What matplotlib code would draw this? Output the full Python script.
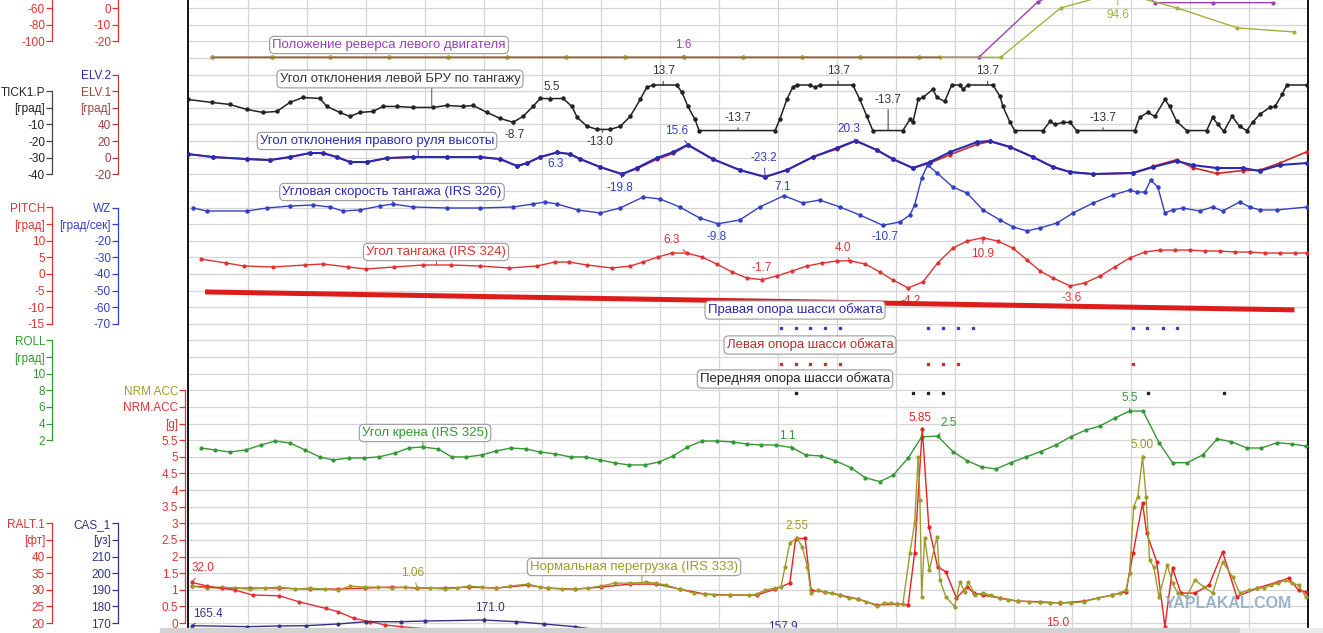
import matplotlib
matplotlib.use('Agg')
import matplotlib.pyplot as plt
from matplotlib.patches import Rectangle

plt.rcParams['font.family'] = ['Liberation Sans', 'DejaVu Sans']

# ---------------- data (time in grid seconds) ----------------
# reverse position traces (top, partly off screen)
rev_purple_t = [-0.61, 0.4, 1.4, 2.4, 3.4, 4.4, 5.4, 6.4, 7.4, 8.4, 9.4, 10.4, 11.4, 12.41,
                13.41, 13.79, 14.47, 15.26, 15.40, 16.38, 17.40]
rev_purple = [1.6, 1.6, 1.6, 1.6, 1.6, 1.6, 1.6, 1.6, 1.6, 1.6, 1.6, 1.6, 1.6, 1.6,
              80.6, 95.0, 98.0, 90.0, 79.6, 79.6, 79.6]
rev_olive_t = [-0.61, 0.4, 1.4, 2.4, 3.4, 4.4, 5.4, 6.4, 7.4, 8.4, 9.4, 10.4, 11.4, 11.75,
               12.78, 13.80, 14.77, 15.78, 16.80, 17.77]
rev_olive = [1.6, 1.6, 1.6, 1.6, 1.6, 1.6, 1.6, 1.6, 1.6, 1.6, 1.6, 1.6, 1.6, 1.6,
             1.6, 72.0, 94.6, 72.0, 43.5, 37.7]
rev_other_t = [-0.61, 1.4, 3.4, 5.4, 7.4, 9.4, 11.75]
rev_other = [1.6, 1.6, 1.6, 1.6, 1.6, 1.6, 1.6]

# left stick pitch (TICK1.P)
tick_t = [-1.02, -0.61, -0.31, -0.02, 0.25, 0.49, 0.71, 0.93, 1.22, 1.34,
          1.56, 1.73, 1.90, 2.12, 2.29, 2.53, 2.80, 3.14, 3.38, 3.65,
          3.82, 4.06, 4.28, 4.50, 4.67, 4.84, 4.96, 5.13, 5.35, 5.50,
          5.59, 5.76, 5.93, 6.15, 6.32, 6.49, 6.66, 6.77, 6.88, 7.28,
          7.37, 7.47, 7.59, 7.66, 8.95, 9.03, 9.15, 9.25, 9.32, 9.54,
          9.63, 9.71, 10.27, 10.39, 10.51, 10.61, 11.12, 11.24, 11.29, 11.38,
          11.46, 11.63, 11.70, 11.83, 11.95, 12.09, 12.14, 12.22, 12.65, 12.77,
          12.82, 12.94, 13.02, 13.50, 13.62, 13.70, 13.84, 13.96, 14.07, 15.06,
          15.14, 15.28, 15.40, 15.57, 15.65, 15.77, 15.94, 16.28, 16.38, 16.47,
          16.57, 16.71, 16.84, 16.96, 17.06, 17.18, 17.35, 17.44, 17.56, 17.64, 17.98]
tick_v = [5.0, 3.2, 2.0, -1.0, -2.8, -2.2, 3.2, 6.2, 5.6, 0.8,
          -2.8, -5.2, -2.8, -2.2, 0.8, 0.8, 0.2, 0.2, 1.4, 0.8,
          1.4, -2.8, -6.4, -8.7, -5.2, 0.8, 5.6, 5.5, 5.6, 0.8,
          -5.8, -11.2, -13.0, -13.0, -11.2, -5.2, 5.0, 12.3, 13.7, 13.7,
          9.3, 0.8, -7.0, -13.7, -13.7, -7.0, 5.0, 12.3, 13.7, 13.7,
          12.3, 13.7, 13.7, 5.0, -5.2, -13.7, -13.7, -7.0, -8.8, 5.0,
          6.2, 11.1, 6.2, 3.8, 13.7, 13.7, 11.1, 13.7, 13.7, 6.8,
          0.8, -8.8, -13.7, -13.7, -8.2, -10.0, -8.8, -8.8, -13.7, -13.7,
          -5.8, -2.8, -5.2, 5.0, 0.8, -8.2, -13.7, -13.7, -5.8, -10.0,
          -14.2, -5.2, -11.2, -13.7, -8.8, -4.0, 0.2, 0.8, 8.0, 13.7, 13.7]

# elevators (ELV.2 right - blue, ELV.1 left - red)
elv_t = [-1.02, -0.59, -0.02, 0.37, 0.71, 1.05, 1.27, 1.51, 1.73, 2.02,
         2.36, 2.80, 3.38, 3.94, 4.28, 4.57, 4.74, 4.96, 5.25, 5.47,
         5.64, 5.98, 6.35, 6.60, 6.94, 7.22, 7.47, 7.89, 8.35, 8.78,
         9.15, 9.59, 10.0, 10.32, 10.68, 10.95, 11.29, 11.58, 11.92, 12.38,
         12.60, 12.94, 13.33, 13.67, 13.96, 14.35, 15.03, 15.37, 15.77, 16.04,
         16.45, 16.89, 17.18, 17.52, 17.98]
elv2 = [4.3, 0.7, -1.7, -2.9, 0.7, 5.5, 5.5, 0.7, -5.3, -5.3,
        -0.5, 0.7, 0.7, 0.7, -1.7, -10.1, -6.5, 0.7, 6.3, 4.3,
        -1.7, -11.3, -19.8, -12.5, -0.5, 6.7, 15.6, -1.7, -14.9, -23.2,
        -14.9, 0.7, 11.6, 20.3, 9.1, -1.7, -12.5, -5.3, 6.7, 18.8,
        20.0, 12.8, 0.7, -11.3, -17.3, -19.7, -18.5, -11.3, -4.1, -8.9,
        -12.5, -12.5, -16.1, -8.9, -6.5]
elv1 = [4.3, 0.7, -1.7, -2.9, 0.7, 5.5, 5.5, 0.7, -5.3, -5.3,
        -0.5, 0.7, 0.7, 0.7, -1.7, -10.1, -6.5, 0.7, 6.3, 4.3,
        -1.7, -11.3, -19.8, -13.5, -2.0, 5.0, 15.0, -1.7, -14.9, -23.2,
        -14.9, 0.7, 10.5, 20.3, 9.1, -1.7, -12.5, -6.5, 3.5, 16.0,
        19.5, 12.8, 0.7, -11.3, -17.3, -19.7, -18.5, -10.5, -2.5, -12.0,
        -19.0, -15.5, -15.0, -6.5, 7.0]

# pitch rate WZ (IRS 326)
wz_t = [-0.93, -0.70, -0.02, 0.32, 0.71, 1.10, 1.39, 1.61, 1.90, 2.24,
        2.46, 2.80, 3.38, 3.94, 4.50, 4.84, 5.04, 5.25, 5.60, 5.98,
        6.32, 6.71, 7.0, 7.33, 7.67, 7.98, 8.35, 8.69, 9.10, 9.42,
        9.71, 10.05, 10.39, 10.78, 11.07, 11.24, 11.32, 11.44, 11.54, 11.70,
        11.97, 12.21, 12.48, 12.77, 12.99, 13.23, 13.45, 13.74, 14.01, 14.35,
        14.69, 14.97, 15.09, 15.23, 15.33, 15.45, 15.57, 15.70, 15.87, 16.16,
        16.38, 16.55, 16.84, 17.01, 17.18, 17.47, 17.98]
wz_v = [-0.3, -2.1, -2.1, -0.3, 0.9, 1.5, 0.3, -2.1, -1.5, 0.9,
        2.1, 0.3, -0.3, -0.3, 0.3, 2.1, 3.3, 2.1, -1.5, -3.3,
        -0.3, 6.3, 5.1, 0.3, -6.3, -9.8, -7.5, 0.3, 7.1, 2.7,
        4.5, 0.3, -4.5, -10.7, -8.7, -4.5, 1.5, 17.7, 25.6, 20.8,
        12.3, 8.7, -1.5, -7.5, -11.7, -14.1, -12.3, -9.3, -3.3, 2.7,
        7.5, 10.5, 9.3, 9.3, 16.5, 12.3, -3.3, -1.5, -0.3, -2.1,
        0.3, -2.1, 3.3, 0.3, -1.5, -1.5, 0.3]

# pitch angle (IRS 324)
pitch_t = [-0.80, -0.37, -0.07, 0.42, 0.97, 1.27, 1.70, 2.0, 2.48, 2.97,
           3.45, 3.94, 4.43, 4.91, 5.21, 5.45, 5.76, 6.18, 6.49, 6.71,
           6.96, 7.20, 7.45, 7.71, 7.96, 8.22, 8.47, 8.73, 8.98, 9.24,
           9.49, 9.75, 10.0, 10.22, 10.48, 10.73, 10.95, 11.21, 11.46, 11.71,
           11.97, 12.21, 12.48, 12.73, 12.99, 13.23, 13.45, 13.67, 13.96, 14.21,
           14.47, 14.72, 14.97, 15.23, 15.48, 15.74, 15.99, 16.25, 16.50, 16.76,
           17.01, 17.27, 17.52, 17.78, 17.98]
pitch_v = [4.5, 3.3, 2.4, 2.1, 2.7, 3.0, 2.1, 1.5, 2.1, 2.7,
           2.7, 2.4, 1.8, 2.4, 3.6, 3.6, 2.7, 1.8, 2.4, 3.6,
           5.1, 6.3, 6.3, 5.1, 3.0, 0.6, -1.2, -1.7, -0.6, 0.9,
           2.4, 3.3, 3.9, 4.0, 3.0, 0.6, -1.8, -4.2, -2.4, 3.3,
           7.8, 9.9, 10.9, 9.9, 7.8, 4.2, 0.9, -1.2, -3.6, -2.7,
           -0.6, 2.1, 4.8, 6.6, 7.2, 7.2, 7.2, 6.9, 6.9, 6.6,
           6.6, 6.3, 6.3, 6.3, 6.3]

# hand drawn red stroke over the screenshot (in pitch units)
stroke_t = [-0.73, 17.77]
stroke_v = [-5.4, -10.8]

# weight-on-wheels discretes
gear_right_t = [9.05, 9.30, 9.55, 9.80, 10.05, 11.55, 11.81, 12.06, 12.31, 15.02, 15.27, 15.53, 15.78]
gear_right = [1, 1, 1, 1, 1, 1, 1, 1, 1, 1, 1, 1, 1]
gear_left_t = [9.05, 9.30, 9.55, 9.80, 10.05, 11.55, 11.81, 12.06, 15.02]
gear_left = [1, 1, 1, 1, 1, 1, 1, 1, 1]
gear_nose_t = [9.30, 11.29, 11.55, 11.81, 15.29, 16.57]
gear_nose = [1, 1, 1, 1, 1, 1]

# roll angle (IRS 325)
roll_t = [-0.80, -0.56, -0.31, -0.04, 0.22, 0.46, 0.71, 0.97, 1.22, 1.45,
          1.71, 1.97, 2.22, 2.50, 2.73, 2.97, 3.23, 3.46, 3.70, 3.97,
          4.21, 4.47, 4.72, 4.96, 5.22, 5.48, 5.74, 5.97, 6.23, 6.47,
          6.74, 6.98, 7.22, 7.46, 7.71, 7.96, 8.23, 8.47, 8.71, 8.96,
          9.24, 9.47, 9.73, 9.97, 10.24, 10.48, 10.73, 10.96, 11.21, 11.44,
          11.71, 11.97, 12.21, 12.46, 12.70, 12.95, 13.21, 13.46, 13.72, 13.97,
          14.23, 14.47, 14.72, 14.97, 15.20, 15.47, 15.70, 15.95, 16.21, 16.46,
          16.70, 16.96, 17.21, 17.48, 17.72, 17.96]
roll_v = [1.06, 0.82, 0.58, 0.82, 1.42, 1.90, 1.66, 0.82, -0.02, -0.38,
          -0.14, -0.14, -0.02, 0.46, 1.06, 1.18, 0.94, -0.02, -0.02, 0.22,
          0.70, 1.06, 0.94, 0.58, 0.34, -0.02, -0.02, -0.38, -0.74, -0.98,
          -0.98, -0.62, 0.10, 1.18, 1.90, 1.90, 1.78, 1.54, 1.42, 1.42,
          1.10, 0.22, 0.10, -0.47, -1.31, -2.51, -2.99, -2.19, -0.14, 2.4,
          2.5, 0.62, -0.47, -1.23, -1.47, -0.71, -0.02, 0.62, 1.42, 2.42,
          3.23, 3.71, 4.67, 5.5, 5.5, 1.70, -0.71, -0.71, 0.22, 2.14,
          1.82, 1.06, 1.06, 1.70, 1.54, 1.30]

# normal load factor (IRS 333): NRM ACC (olive) and NRM.ACC (red)
nrm_a_t = [-0.95, -0.70, -0.44, -0.22, 0.03, 0.29, 0.53, 0.80, 1.05, 1.31,
           1.53, 1.73, 1.99, 2.21, 2.44, 2.67, 2.87, 3.09, 3.34, 3.55,
           3.75, 3.97, 4.21, 4.45, 4.75, 4.96, 5.09, 5.33, 5.55, 5.77,
           5.99, 6.23, 6.49, 6.76, 6.93, 7.10, 7.33, 7.57, 7.76, 7.91,
           8.18, 8.51, 8.64, 8.78, 8.95, 9.05, 9.12, 9.20, 9.32, 9.41,
           9.50, 9.56, 9.68, 9.80, 9.92, 10.05, 10.20, 10.36, 10.50, 10.68,
           10.80, 10.92, 11.02, 11.12, 11.24, 11.32, 11.38, 11.41, 11.44, 11.49,
           11.57, 11.70, 11.75, 11.85, 12.00, 12.09, 12.17, 12.23, 12.35, 12.48,
           12.61, 12.77, 12.90, 13.07, 13.26, 13.45, 13.62, 13.79, 13.97, 14.20,
           14.43, 14.67, 14.80, 14.91, 14.97, 15.04, 15.11, 15.19, 15.25, 15.31,
           15.38, 15.47, 15.61, 15.70, 15.79, 15.94, 16.08, 16.23, 16.38, 16.55,
           16.72, 16.84, 17.00, 17.14, 17.25, 17.37, 17.49, 17.61, 17.73, 17.84, 17.96]
nrm_a = [1.11, 1.05, 1.08, 1.05, 1.02, 1.05, 1.08, 1.02, 1.05, 1.02,
         0.99, 1.11, 1.08, 1.08, 1.05, 1.08, 1.06, 1.05, 1.02, 1.05,
         1.11, 1.08, 1.05, 1.11, 1.17, 1.08, 1.05, 1.02, 1.02, 1.05,
         1.11, 1.20, 1.20, 1.23, 1.20, 1.14, 1.02, 0.90, 0.87, 0.84,
         0.84, 0.84, 0.87, 0.99, 1.05, 1.09, 1.69, 2.41, 2.55, 2.30,
         1.69, 0.90, 0.99, 0.93, 0.90, 0.84, 0.75, 0.72, 0.64, 0.51,
         0.60, 0.60, 0.57, 0.57, 2.11, 3.01, 5.00, 3.70, 0.79, 2.56,
         1.59, 2.60, 1.29, 0.79, 0.49, 1.24, 0.94, 1.24, 0.84, 0.90,
         0.84, 0.75, 0.69, 0.66, 0.64, 0.62, 0.60, 0.62, 0.60, 0.64,
         0.75, 0.84, 0.90, 0.99, 1.50, 3.50, 3.80, 5.00, 3.80, 1.90,
         1.69, 0.79, 1.74, 1.20, 0.90, 0.79, 1.29, 1.09, 0.90, 1.84,
         1.39, 0.90, 0.99, 1.05, 1.05, 1.14, 1.20, 1.29, 1.20, 1.14, 0.79]
nrm_b_t = [-0.95, -0.44, 0.03, 0.53, 1.05, 1.53, 1.99, 2.44, 2.87, 3.34,
           3.75, 4.21, 4.75, 5.09, 5.55, 5.99, 6.49, 6.93, 7.33, 7.76,
           8.18, 8.64, 8.95, 9.20, 9.30, 9.46, 9.56, 9.80, 10.05, 10.36,
           10.68, 11.02, 11.21, 11.32, 11.45, 11.56, 11.71, 11.85, 12.03, 12.21,
           12.33, 12.48, 12.77, 13.07, 13.45, 13.79, 14.20, 14.67, 14.91, 15.03,
           15.19, 15.26, 15.43, 15.57, 15.70, 15.84, 16.08, 16.32, 16.55, 16.79,
           17.14, 17.49, 17.67, 17.84, 17.96]
nrm_b = [1.11, 1.05, 1.05, 1.05, 1.02, 1.02, 1.05, 1.08, 1.05, 1.05,
         1.08, 1.05, 1.14, 1.05, 1.02, 1.08, 1.17, 1.17, 1.02, 0.87,
         0.84, 0.84, 1.02, 1.20, 2.53, 2.55, 0.99, 0.93, 0.84, 0.72,
         0.54, 0.57, 0.54, 2.11, 5.85, 2.90, 1.69, 1.54, 0.75, 1.09,
         0.90, 0.84, 0.75, 0.66, 0.64, 0.60, 0.66, 0.84, 0.94, 2.11,
         3.61, 2.71, 1.84, -0.11, 1.65, 0.90, 0.90, 1.14, 2.14, 0.79,
         1.05, 1.24, 1.35, 0.99, 0.94]

# radio altitude and airspeed (bottom, mostly below the visible area)
ralt_t = [-0.95, -0.69, -0.22, 0.08, 0.53, 0.86, 1.32, 1.53, 1.80, 2.07,
          2.33, 2.60, 3.5, 5.0, 8.0, 11.0, 13.75, 16.0, 18.0]
ralt_v = [32.2, 31.1, 29.9, 28.4, 28.2, 26.4, 24.4, 23.4, 21.4, 20.4,
          19.4, 18.9, 17.5, 16.3, 15.6, 15.2, 15.0, 14.8, 14.6]
cas_t = [-0.95, -0.02, 0.53, 0.99, 1.53, 2.0, 2.60, 3.0, 4.0, 4.55,
         5.03, 5.55, 6.5, 7.5, 9.08, 11.0, 14.0, 18.0]
cas_v = [168.4, 167.8, 168.2, 168.4, 169.4, 170.8, 170.8, 171.2, 171.8, 170.8,
         169.4, 167.8, 163.0, 160.0, 157.9, 156.5, 155.5, 155.0]

# ---------------- layout ----------------
W, H = 1323, 633
X0, X1 = 188, 1308
T0, T1 = -1.019, 18.0
Y_BASE, STEP = 623, 16.62
RECT = [X0 / W, 0, (X1 - X0) / W, 1]

C_RED = '#e03232'
C_BLUE = '#3340c4'
C_DBLUE = '#2a2ab0'
C_GREEN = '#339933'
C_OLIVE = '#9c9c2a'
C_BLACK = '#222222'
C_PURPLE = '#9b3fb5'
C_BROWN = '#a04040'
C_NAVY = '#333385'


def lims(k0, v0, dv):
    kb = (Y_BASE - H) / STEP
    kt = Y_BASE / STEP
    return v0 + (kb - k0) * dv, v0 + (kt - k0) * dv


fig = plt.figure(figsize=(W / 100, H / 100), dpi=100)
ax = fig.add_axes(RECT)
ax.set_xticks(range(0, 18))
ax.set_yticks([Y_BASE - STEP * k for k in range(38)])
ax.set_xlim(T0, T1)
ax.set_ylim(H, 0)
ax.tick_params(length=0, labelleft=False, labelbottom=False)
ax.grid(True, color='#d6d6d6', lw=0.9)
for s in ('top', 'bottom'):
    ax.spines[s].set_visible(False)
for s in ('left', 'right'):
    ax.spines[s].set_color('black')
    ax.spines[s].set_linewidth(1.3)


def trace_axes(k0, v0, dv):
    a = fig.add_axes(RECT, sharex=ax)
    a.set_ylim(*lims(k0, v0, dv))
    a.patch.set_visible(False)
    a.axis('off')
    return a


def scale(xs, k0, v0, dv, ticks, labels, colors, spine_color, top=None):
    a = fig.add_axes([xs / W, 0, 0.0005, 1])
    a.patch.set_visible(False)
    for s in ('right', 'top', 'bottom'):
        a.spines[s].set_visible(False)
    a.spines['left'].set_color(spine_color)
    a.spines['left'].set_linewidth(0.9)
    a.spines['left'].set_bounds(min(ticks), max(ticks) if top is None else top)
    a.set_xticks([])
    a.set_yticks(ticks)
    a.set_yticklabels(labels)
    a.set_ylim(*lims(k0, v0, dv))
    a.tick_params(axis='y', length=4, width=0.9, color=spine_color, pad=1, labelsize=8.5)
    if isinstance(colors, str):
        colors = [colors] * len(ticks)
    for lab, c in zip(a.get_yticklabels(), colors):
        lab.set_color(c)
    return a


def note(a, t, v, text, dx, dy, color):
    a.annotate(text, xy=(t, v), xytext=(dx, dy), textcoords='offset pixels',
               ha='center', va='center', color=color, fontsize=8.5,
               arrowprops=dict(arrowstyle='-', color=color, lw=0.7, shrinkA=1, shrinkB=0),
               annotation_clip=False)


def stem(a, t, v, dy, color):
    a.annotate('', xy=(t, v), xytext=(0, dy), textcoords='offset pixels',
               arrowprops=dict(arrowstyle='-', color=color, lw=0.7, shrinkA=0, shrinkB=0))


def tag(x, y, text, color):
    fig.text(x / W, 1 - y / H, text, ha='center', va='center', color=color, fontsize=9.5,
             bbox=dict(boxstyle='round,pad=0.2,rounding_size=0.35', fc='white',
                       ec='#9a9a9a', lw=0.8))


# ---------------- left scales ----------------
scale(52, 37, -60, 20, [-100, -80, -60], ['-100', '-80', '-60'], C_RED, C_RED, top=-40)
scale(118, 37, 0, 10, [-20, -10, 0], ['-20', '-10', '0'], C_RED, C_RED, top=10)
scale(52, 31, 0, 10, [-40, -30, -20, -10, 0, 10],
      ['-40', '-30', '-20', '-10', '[град]', 'TICK1.P'], C_BLACK, '#444444')
scale(118, 28, 0, 20, [-20, 0, 20, 40, 60, 80, 100],
      ['-20', '0', '20', '40', '[град]', 'ELV.1', 'ELV.2'],
      [C_BROWN] * 6 + [C_DBLUE], C_BROWN)
scale(52, 21, 0, 5, [-15, -10, -5, 0, 5, 10, 15, 20],
      ['-15', '-10', '-5', '0', '5', '10', '[град]', 'PITCH'], C_RED, C_RED)
scale(118, 25, 0, 10, [-70, -60, -50, -40, -30, -20, -10, 0],
      ['-70', '-60', '-50', '-40', '-30', '-20', '[град/сек]', 'WZ'], C_BLUE, C_BLUE)
scale(52, 11, 2, 2, [2, 4, 6, 8, 10, 12, 14],
      ['2', '4', '6', '8', '10', '[град]', 'ROLL'], C_GREEN, C_GREEN)
scale(185, 0, 0, 0.5, [0, 0.5, 1, 1.5, 2, 2.5, 3, 3.5, 4, 4.5, 5, 5.5, 6, 6.5, 7],
      ['0', '0.5', '1', '1.5', '2', '2.5', '3', '3.5', '4', '4.5', '5', '5.5',
       '[g]', 'NRM.ACC', 'NRM ACC'],
      [C_RED] * 14 + [C_OLIVE], C_RED)
scale(52, 0, 20, 5, [20, 25, 30, 35, 40, 45, 50],
      ['20', '25', '30', '35', '40', '[фт]', 'RALT.1'], C_RED, C_RED)
scale(118, 0, 170, 10, [170, 180, 190, 200, 210, 220, 230],
      ['170', '180', '190', '200', '210', '[уз]', 'CAS_1'], C_NAVY, C_NAVY)

# ---------------- traces ----------------
ax_rev = trace_axes(34.04, 1.6, 23.74)
ax_rev.plot(rev_purple_t, rev_purple, color=C_PURPLE, lw=1, marker='o', ms=2)
ax_rev.plot(rev_olive_t, rev_olive, color='#a6b03c', lw=1, marker='o', ms=2)
ax_rev.plot(rev_other_t, rev_other, color='#a85a30', lw=1)
note(ax_rev, 7.39, 1.6, '1.6', 0, 12, C_PURPLE)
note(ax_rev, 14.77, 94.6, '94.6', 0, -23, '#a6b03c')

ax_tick = trace_axes(31, 0, 10)
ax_tick.plot(tick_t, tick_v, color=C_BLACK, lw=1.1, marker='o', ms=2.2)
for t, v, s, dx, dy in [(5.13, 5.5, '5.5', 2, 12), (4.50, -8.7, '-8.7', 2, -13),
                        (6.03, -13.0, '-13.0', -3, -13), (7.05, 13.7, '13.7', 0, 14),
                        (8.32, -13.7, '-13.7', 0, 13), (10.02, 13.7, '13.7', 0, 14),
                        (10.87, -13.7, '-13.7', 0, 31), (12.56, 13.7, '13.7', 0, 14),
                        (14.52, -13.7, '-13.7', 0, 13)]:
    note(ax_tick, t, v, s, dx, dy, '#333333')
stem(ax_tick, 3.12, 0.2, 20, '#555555')

ax_elv = trace_axes(28, 0, 20)
ax_elv.plot(elv_t, elv1, color='#cc2a2a', lw=1.2, marker='o', ms=2)
ax_elv.plot(elv_t, elv2, color=C_DBLUE, lw=1.5, marker='o', ms=2.4)
for t, v, s, dx, dy in [(5.25, 6.3, '6.3', -2, -12), (7.47, 15.6, '15.6', -11, 14),
                        (6.35, -19.8, '-19.8', -2, -14), (8.78, -23.2, '-23.2', -1, 19),
                        (10.32, 20.3, '20.3', -7, 12)]:
    note(ax_elv, t, v, s, dx, dy, C_BLUE)
stem(ax_elv, 2.89, 0.7, 8, C_BLUE)

ax_wz = trace_axes(25, 0, 10)
ax_wz.plot(wz_t, wz_v, color=C_BLUE, lw=1, marker='o', ms=2.2)
for t, v, s, dx, dy in [(9.10, 7.1, '7.1', -1, 9), (7.98, -9.8, '-9.8', -1, -13),
                        (10.78, -10.7, '-10.7', 2, -12)]:
    note(ax_wz, t, v, s, dx, dy, C_BLUE)
stem(ax_wz, 2.46, 2.1, 5, C_BLUE)

ax_pitch = trace_axes(21, 0, 5)
ax_pitch.plot(pitch_t, pitch_v, color=C_RED, lw=1, marker='o', ms=2)
for t, v, s, dx, dy in [(7.45, 6.3, '6.3', -15, 13), (8.73, -1.7, '-1.7', 0, 12),
                        (10.22, 4.0, '4.0', -7, 13), (11.21, -4.2, '-4.2', 2, -13),
                        (12.48, 10.9, '10.9', 0, -16), (13.96, -3.6, '-3.6', 2, -12)]:
    note(ax_pitch, t, v, s, dx, dy, C_RED)
stem(ax_pitch, 3.2, 2.7, 6, C_RED)

for k0, gt, gv, c in [(17.77, gear_right_t, gear_right, C_BLUE),
                      (15.58, gear_left_t, gear_left, '#c03030'),
                      (13.86, gear_nose_t, gear_nose, C_BLACK)]:
    ga = trace_axes(k0, 1, 1)
    ga.plot(gt, gv, ls='none', marker='s', ms=1.6, color=c)

ax_roll = trace_axes(11, 2, 2)
ax_roll.plot(roll_t, roll_v, color=C_GREEN, lw=1, marker='o', ms=2)
for t, v, s, dx, dy in [(9.24, 1.1, '1.1', -5, 12), (11.71, 2.5, '2.5', 11, 13),
                        (14.97, 5.5, '5.5', 0, 13)]:
    note(ax_roll, t, v, s, dx, dy, C_GREEN)
stem(ax_roll, 2.97, 1.18, 6, C_GREEN)

ax_nrm = trace_axes(0, 0, 0.5)
ax_nrm.plot(nrm_b_t, nrm_b, color='#e82020', lw=1, marker='o', ms=2)
ax_nrm.plot(nrm_a_t, nrm_a, color=C_OLIVE, lw=1, marker='o', ms=2)
note(ax_nrm, 11.45, 5.85, '5.85', -2, 11, '#e82020')
note(ax_nrm, 9.32, 2.55, '2.55', 0, 12, C_OLIVE)
note(ax_nrm, 15.19, 5.0, '5.00', 0, 12, C_OLIVE)
note(ax_nrm, 2.87, 1.06, '1.06', -4, 15, C_OLIVE)
stem(ax_nrm, 6.69, 1.2, 8, C_OLIVE)

ax_ralt = trace_axes(0, 20, 5)
ax_ralt.plot(ralt_t, ralt_v, color=C_RED, lw=1, marker='o', ms=2)
note(ax_ralt, -0.95, 32.2, '32.0', 11, 14, C_RED)
note(ax_ralt, 13.75, 15.0, '15.0', 0, 17, C_RED)

ax_cas = trace_axes(0, 170, 10)
ax_cas.plot(cas_t, cas_v, color=C_NAVY, lw=1, marker='o', ms=2)
note(ax_cas, -0.95, 168.4, '165.4', 16, 12, C_NAVY)
note(ax_cas, 4.0, 171.8, '171.0', 6, 12, C_NAVY)
note(ax_cas, 9.08, 157.9, '157.9', 0, 16, C_NAVY)

ax_mark = trace_axes(21, 0, 5)
ax_mark.plot(stroke_t, stroke_v, color='#dd1c1c', lw=3.6, solid_capstyle='butt')

# ---------------- boxed trace names ----------------
tag(389, 45, 'Положение реверса левого двигателя', C_PURPLE)
tag(400, 79, 'Угол отклонения левой БРУ по тангажу', '#333333')
tag(377, 141, 'Угол отклонения правого руля высоты', C_DBLUE)
tag(392, 192, 'Угловая скорость тангажа (IRS 326)', C_DBLUE)
tag(436, 252, 'Угол тангажа (IRS 324)', C_RED)
tag(795, 310, 'Правая опора шасси обжата', C_DBLUE)
tag(810, 345, 'Левая опора шасси обжата', '#b03030')
tag(795, 379, 'Передняя опора шасси обжата', C_BLACK)
tag(425, 433, 'Угол крена (IRS 325)', C_GREEN)
tag(634, 567, 'Нормальная перегрузка (IRS 333)', C_OLIVE)

# scrollbar strip and watermark of the screenshot
fig.add_artist(Rectangle((160 / W, 0), (1240 - 160) / W, 5 / H, transform=fig.transFigure,
                         color='#d2d2d2', zorder=10))
fig.add_artist(Rectangle((1240 / W, 0), (W - 1240) / W, 5 / H, transform=fig.transFigure,
                         color='#ebebeb', zorder=10))
fig.text(1228 / W, 1 - 604 / H, 'YAPLAKAL.COM', color='#9db3cc', fontsize=11.5,
         fontweight='bold', ha='center', va='center', zorder=11)

fig.savefig('out.png', dpi=100)
